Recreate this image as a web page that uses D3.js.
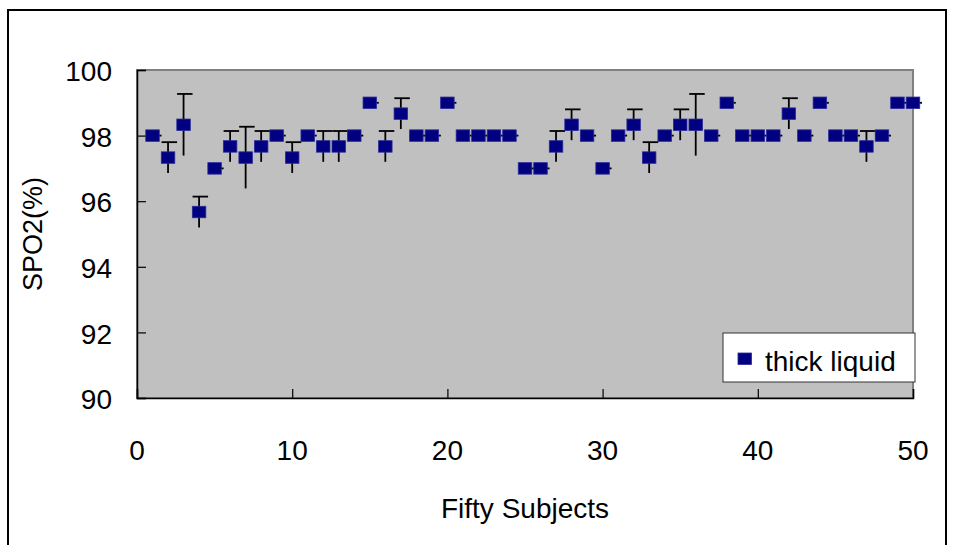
<!DOCTYPE html>
<html>
<head>
<meta charset="utf-8">
<script src="https://cdn.jsdelivr.net/npm/d3@7"></script>
<style>
  body { margin: 0; background: #fff; }
  text { font-family: "Liberation Sans", Arial, sans-serif; fill: #000; }
</style>
</head>
<body>
<div id="chart"></div>
<script>
// Data
const subjects = [1, 2, 3, 4, 5, 6, 7, 8, 9, 10, 11, 12, 13, 14, 15, 16, 17, 18, 19, 20,
  21, 22, 23, 24, 25, 26, 27, 28, 29, 30, 31, 32, 33, 34, 35, 36, 37, 38, 39, 40,
  41, 42, 43, 44, 45, 46, 47, 48, 49, 50];
const spo2Mean = [98, 97.33, 98.33, 95.67, 97, 97.67, 97.33, 97.67, 98, 97.33,
  98, 97.67, 97.67, 98, 99, 97.67, 98.67, 98, 98, 99,
  98, 98, 98, 98, 97, 97, 97.67, 98.33, 98, 97,
  98, 98.33, 97.33, 98, 98.33, 98.33, 98, 99, 98, 98,
  98, 98.67, 98, 99, 98, 98, 97.67, 98, 99, 99];
const spo2Err = [0, 0.47, 0.94, 0.47, 0, 0.47, 0.94, 0.47, 0, 0.47,
  0, 0.47, 0.47, 0, 0, 0.47, 0.47, 0, 0, 0,
  0, 0, 0, 0, 0, 0, 0.47, 0.47, 0, 0,
  0, 0.47, 0.47, 0, 0.47, 0.94, 0, 0, 0, 0,
  0, 0.47, 0, 0, 0, 0, 0.47, 0, 0, 0];
const xTicks = [0, 10, 20, 30, 40, 50];
const yTicks = [90, 92, 94, 96, 98, 100];
const seriesName = "thick liquid";

const W = 954, H = 545;
const plot = { left: 137, top: 70, right: 913, bottom: 398 };

const svg = d3.select("#chart")
  .append("svg")
  .attr("width", W)
  .attr("height", H);

// outer chart frame
svg.append("rect")
  .attr("x", 8).attr("y", 10)
  .attr("width", 938).attr("height", 560)
  .attr("fill", "#fff")
  .attr("stroke", "#000")
  .attr("stroke-width", 2);

const x = d3.scaleLinear().domain([0, 50]).range([plot.left, plot.right]);
const y = d3.scaleLinear().domain([90, 100]).range([plot.bottom, plot.top]);

// plot area
svg.append("rect")
  .attr("x", plot.left).attr("y", plot.top)
  .attr("width", plot.right - plot.left)
  .attr("height", plot.bottom - plot.top)
  .attr("fill", "#c0c0c0")
  .attr("stroke", "#808080")
  .attr("stroke-width", 2);

// axes, ticks pointing inward
const yAxis = svg.append("g")
  .attr("transform", "translate(" + plot.left + ",0)")
  .call(d3.axisRight(y).tickValues(yTicks).tickSize(9).tickFormat(""));
const xAxis = svg.append("g")
  .attr("transform", "translate(0," + plot.bottom + ")")
  .call(d3.axisTop(x).tickValues(xTicks).tickSize(9).tickFormat(""));
[yAxis, xAxis].forEach(function (a) {
  a.select(".domain").attr("stroke", "#000").attr("stroke-width", 1.5);
  a.selectAll(".tick line").attr("stroke", "#000").attr("stroke-width", 1.2);
});

// tick labels
svg.append("g")
  .selectAll("text")
  .data(yTicks)
  .enter()
  .append("text")
  .attr("x", 112)
  .attr("y", d => y(d))
  .attr("dy", "0.4em")
  .attr("text-anchor", "end")
  .style("font-size", "28px")
  .text(d => d);

svg.append("g")
  .selectAll("text")
  .data(xTicks)
  .enter()
  .append("text")
  .attr("x", d => x(d))
  .attr("y", 460)
  .attr("text-anchor", "middle")
  .style("font-size", "28px")
  .text(d => d);

// axis titles
svg.append("text")
  .attr("x", (plot.left + plot.right) / 2)
  .attr("y", 518)
  .attr("text-anchor", "middle")
  .style("font-size", "28px")
  .text("Fifty Subjects");

svg.append("text")
  .attr("transform", "translate(42," + ((plot.top + plot.bottom) / 2) + ") rotate(-90)")
  .attr("text-anchor", "middle")
  .style("font-size", "27px")
  .text("SPO2(%)");

const data = subjects.map((s, i) => ({ subject: s, mean: spo2Mean[i], err: spo2Err[i] }));

// error bars: vertical line with a cap at the top end
const bars = svg.append("g");
bars.selectAll("line.stem")
  .data(data)
  .enter()
  .append("line")
  .attr("class", "stem")
  .attr("x1", d => x(d.subject)).attr("x2", d => x(d.subject))
  .attr("y1", d => y(d.mean + d.err)).attr("y2", d => y(d.mean - d.err))
  .attr("stroke", "#000")
  .attr("stroke-width", 1.8);
bars.selectAll("line.cap")
  .data(data)
  .enter()
  .append("line")
  .attr("class", "cap")
  .attr("x1", d => x(d.subject) - 6.5).attr("x2", d => x(d.subject) + 9)
  .attr("y1", d => y(d.mean + d.err)).attr("y2", d => y(d.mean + d.err))
  .attr("stroke", "#000")
  .attr("stroke-width", 1.8);

// markers
svg.append("g")
  .selectAll("rect")
  .data(data)
  .enter()
  .append("rect")
  .attr("x", d => x(d.subject) - 6.75)
  .attr("y", d => y(d.mean) - 5.75)
  .attr("width", 13.5)
  .attr("height", 11.5)
  .attr("fill", "#000080")
  .attr("stroke", "#2a2a9c")
  .attr("stroke-width", 0.8);

// legend
const legend = svg.append("g");
legend.append("rect")
  .attr("x", 723).attr("y", 333)
  .attr("width", 192).attr("height", 49)
  .attr("fill", "#fff")
  .attr("stroke", "#333")
  .attr("stroke-width", 1);
legend.append("rect")
  .attr("x", 738).attr("y", 353)
  .attr("width", 13.5).attr("height", 11.5)
  .attr("fill", "#000080")
  .attr("stroke", "#2a2a9c")
  .attr("stroke-width", 0.8);
legend.append("text")
  .attr("x", 765)
  .attr("y", 371)
  .style("font-size", "28px")
  .text(seriesName);
</script>
</body>
</html>
